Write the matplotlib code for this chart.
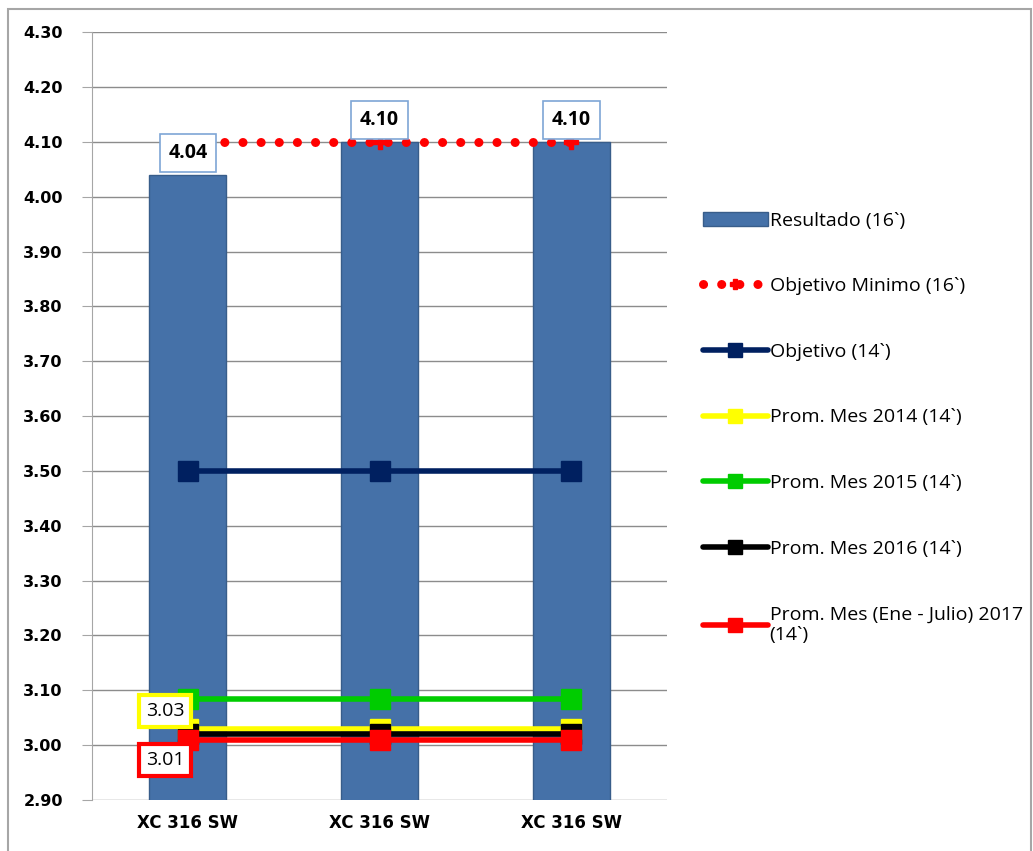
import matplotlib.pyplot as plt
from matplotlib.patches import Rectangle

categories = ['XC 316 SW', 'XC 316 SW', 'XC 316 SW']
resultado = [4.04, 4.10, 4.10]
objetivo_minimo = [4.10, 4.10, 4.10]
objetivo = [3.50, 3.50, 3.50]
prom_2014 = [3.03, 3.03, 3.03]
prom_2015 = [3.085, 3.085, 3.085]
prom_2016 = [3.02, 3.02, 3.02]
prom_2017 = [3.01, 3.01, 3.01]
yticks = [2.90, 3.00, 3.10, 3.20, 3.30, 3.40, 3.50, 3.60, 3.70, 3.80, 3.90, 4.00, 4.10, 4.20, 4.30]

plt.rcParams['font.family'] = ['Open Sans', 'DejaVu Sans']

fig = plt.figure(figsize=(10.33, 8.51), dpi=100)
ax = fig.add_axes([0.089, 0.060, 0.557, 0.902])
x = list(range(len(categories)))

ax.bar(x, resultado, width=0.40, bottom=0, color='#4571A8', edgecolor='#385D8A',
       linewidth=1, label='Resultado (16`)', zorder=2)
ax.plot(x, objetivo_minimo, color='#FF0000', linestyle=(0, (0.01, 2.0)), linewidth=6.5,
        dash_capstyle='round', marker='P', markersize=10, label='Objetivo Minimo (16`)', zorder=4)

series = [
    (objetivo, '#002060', 'Objetivo (14`)'),
    (prom_2014, '#FFFF00', 'Prom. Mes 2014 (14`)'),
    (prom_2015, '#00CC00', 'Prom. Mes 2015 (14`)'),
    (prom_2016, '#000000', 'Prom. Mes 2016 (14`)'),
    (prom_2017, '#FF0000', 'Prom. Mes (Ene - Julio) 2017\n(14`)'),
]
for vals, col, lab in series:
    ax.plot(x, vals, color=col, linewidth=4, marker='s', markersize=14,
            solid_capstyle='round', label=lab, zorder=3)

ax.set_ylim(2.90, 4.30)
ax.set_xlim(-0.5, 2.5)
ax.set_yticks(yticks)
ax.set_yticklabels([f'{v:.2f}' for v in yticks], fontsize=11.5, fontweight='bold',
                   family='DejaVu Sans')
ax.set_xticks(x)
ax.set_xticklabels(categories, fontsize=12, fontweight='bold', family='DejaVu Sans')
ax.yaxis.grid(True, color='#8C8C8C', linewidth=1)
ax.set_axisbelow(True)
for s in ['top', 'right', 'bottom']:
    ax.spines[s].set_visible(False)
ax.spines['left'].set_color('#A6A6A6')
ax.tick_params(axis='y', length=7, color='#A6A6A6', pad=14)
ax.tick_params(axis='x', length=0, pad=10)

# data labels
box_blue = dict(boxstyle='square,pad=0.45', fc='white', ec='#7EA6D6', lw=1.2)
for i in range(len(x)):
    ax.text(x[i], resultado[i] + 0.04, f'{resultado[i]:.2f}', ha='center', va='center',
            fontsize=14, fontweight='bold', bbox=box_blue, zorder=6)
ax.text(x[0] - 0.12, prom_2014[0] + 0.032, f'{prom_2014[0]:.2f}', ha='center', va='center',
        fontsize=14, bbox=dict(boxstyle='square,pad=0.35', fc='white', ec='#FFFF00', lw=3), zorder=6)
ax.text(x[0] - 0.12, prom_2017[0] - 0.037, f'{prom_2017[0]:.2f}', ha='center', va='center',
        fontsize=14, bbox=dict(boxstyle='square,pad=0.35', fc='white', ec='#FF0000', lw=3), zorder=6)

handles, labels = ax.get_legend_handles_labels()
order = [len(handles) - 1] + list(range(len(handles) - 1))
fig.legend([handles[i] for i in order], [labels[i] for i in order],
           loc='upper left', bbox_to_anchor=(0.664, 0.772), frameon=False, fontsize=14,
           labelspacing=2.45, handlelength=3.3, handletextpad=0.1, markerscale=0.75)

fig.patches.append(Rectangle((0.008, -0.01), 0.99, 1.0, transform=fig.transFigure,
                             fill=False, edgecolor='#A6A6A6', linewidth=1.5))

fig.savefig('out.png', dpi=100)
